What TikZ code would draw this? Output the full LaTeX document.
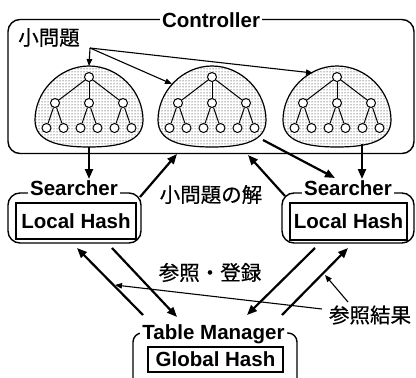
\documentclass[tikz,border=0pt]{standalone}
\usepackage{fontspec}
\setmainfont{Liberation Sans}
\newfontfamily\jp[FakeBold=0.6]{Noto Sans CJK JP}
\usetikzlibrary{arrows.meta,patterns}

\tikzset{
  heavy/.style={line width=2.2pt,-{Triangle[length=10pt,width=8pt]}},
  light/.style={line width=1.1pt,-{Triangle[length=7pt,width=5.5pt]}},
  tnode/.style={circle,draw,fill=white,inner sep=0pt,minimum size=9pt,line width=1pt},
  tedge/.style={line width=1pt},
  blob/.style={draw,line width=1.2pt,pattern=dots,pattern color=black},
  frame/.style={draw,line width=1.4pt,rounded corners=12pt,inner sep=0pt},
  title/.style={font=\bfseries\fontsize{20.5}{20.5}\selectfont,fill=white,inner xsep=2pt,inner ysep=1pt},
  hashbox/.style={draw,line width=1.2pt,inner sep=0pt,font=\bfseries\fontsize{20.5}{20.5}\selectfont},
  jlabel/.style={font=\jp\fontsize{20.5}{20.5}\selectfont,inner sep=0pt},
}

\begin{document}
\begin{tikzpicture}[x=1pt,y=-1pt]
\useasboundingbox (0,0) rectangle (416,378);
\begin{scope}
\clip (0,0) rectangle (416,378);

% controller frame and its title
\node[frame,minimum width=406pt,minimum height=134pt] (ctrl) at (211,86.5) {};
\node[title,anchor=base] (ctrltitle) at (211,27) {Controller};
\node[jlabel] (sub) at (49,37.5) {小問題};

% the three search trees of the sub-problems
\foreach \cx/\i in {89/1,212/2,337/3}{
  \draw[blob] (\cx,66) .. controls (\cx-30,66) and (\cx-54,92) .. (\cx-54,120)
    .. controls (\cx-54,141) and (\cx-32,147) .. (\cx,147)
    .. controls (\cx+32,147) and (\cx+54,141) .. (\cx+54,120)
    .. controls (\cx+54,92) and (\cx+30,66) .. (\cx,66) -- cycle;
  \node[tnode] (r\i) at (\cx,77) {};
  \foreach \m/\dx in {1/-34,2/0,3/34}{
    \node[tnode] (m\i\m) at (\cx+\dx,103) {};
    \node[tnode] (la\i\m) at (\cx+\dx-8.5,128) {};
    \node[tnode] (lb\i\m) at (\cx+\dx+8.5,128) {};
    \draw[tedge] (r\i) -- (m\i\m);
    \draw[tedge] (m\i\m) -- (la\i\m);
    \draw[tedge] (m\i\m) -- (lb\i\m);
  }
}

% searchers
\node[frame,minimum width=133pt,minimum height=50pt] (s1) at (74.5,218) {};
\node[title,anchor=base] (s1title) at (74,195) {Searcher};
\node[hashbox,minimum width=120pt,minimum height=36pt] (lh1) at (76,221) {Local Hash};

\node[frame,minimum width=132pt,minimum height=50pt] (s2) at (348,218) {};
\node[title,anchor=base] (s2title) at (348,195) {Searcher};
\node[hashbox,minimum width=117pt,minimum height=37pt] (lh2) at (348.5,221.5) {Local Hash};

% table manager
\node[frame,rounded corners=9pt,minimum width=164pt,minimum height=62pt] (tm) at (215,364) {};
\node[title,anchor=base] (tmtitle) at (213.5,339) {Table Manager};
\node[hashbox,minimum width=135pt,minimum height=25pt] (gh) at (215.5,359.5) {Global Hash};

% labels
\node[jlabel] (sol) at (211,194.5) {小問題の解};
\node[jlabel] (ref) at (210,272.5) {参照・登録};
\node[jlabel] (res) at (370,315) {参照結果};

% connector end points
\coordinate (src) at (90,48);
\coordinate (tp1) at (89,66);
\coordinate (tp2) at (172,84);
\coordinate (tp3) at (313,73);
\coordinate (b1) at (89,147);
\coordinate (b3) at (362,144);
\coordinate (b2) at (263,140);
\coordinate (in1) at (89,179);
\coordinate (in3) at (362,179);
\coordinate (in2) at (335,178);
\coordinate (up1s) at (140,197);
\coordinate (up1t) at (177,154);
\coordinate (up2s) at (285,196);
\coordinate (up2t) at (248,155);
\coordinate (s1a) at (77,248);
\coordinate (s1b) at (112,248);
\coordinate (s2a) at (315,248);
\coordinate (s2b) at (348,248);
\coordinate (tma) at (143,315);
\coordinate (tmb) at (177,317);
\coordinate (tmc) at (247,315);
\coordinate (tmd) at (282,315);
\coordinate (resa) at (322,309);
\coordinate (resta) at (115,285);
\coordinate (resb) at (348,302);
\coordinate (restb) at (325,275);

% sub-problems handed to the trees
\draw[light] (src) -- (tp1);
\draw[light] (src) -- (tp2);
\draw[light] (src) -- (tp3);

% controller <-> searchers
\draw[heavy] (b1) -- (in1);
\draw[heavy] (b3) -- (in3);
\draw[heavy] (b2) -- (in2);
\draw[heavy] (up1s) -- (up1t);
\draw[heavy] (up2s) -- (up2t);

% searchers <-> table manager
\draw[heavy] (tma) -- (s1a);
\draw[heavy] (s1b) -- (tmb);
\draw[heavy] (s2a) -- (tmc);
\draw[heavy] (tmd) -- (s2b);

% lookup results
\draw[light] (resa) -- (resta);
\draw[light] (resb) -- (restb);
\end{scope}
\end{tikzpicture}
\end{document}
